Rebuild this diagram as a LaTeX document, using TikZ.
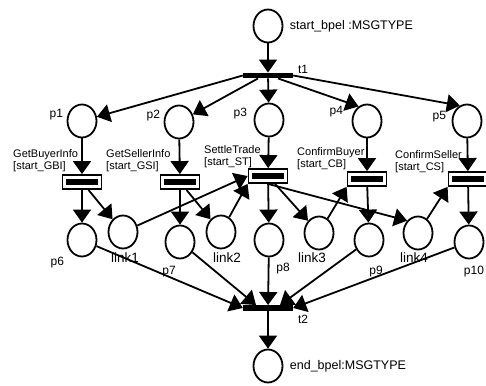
\documentclass[tikz,border=0pt]{standalone}
\usepackage{fontspec}
\setmainfont{Liberation Sans}
\usetikzlibrary{shapes.geometric, arrows.meta}

\begin{document}
\begin{tikzpicture}[
    x=1pt, y=-1pt,
    every node/.style={font=\fontsize{12}{13}\selectfont},
    >={Triangle[length=13pt, width=18pt]},
    arrow/.style={->, line width=1.8pt},
    place/.style={ellipse, draw=black, line width=1.8pt, minimum width=29pt, minimum height=33pt, inner sep=0pt},
    bar/.style={rectangle, fill=black, minimum width=50pt, minimum height=5.5pt, inner sep=0pt},
    task/.style={rectangle, draw=black, line width=1.8pt, minimum width=39pt, minimum height=14pt, inner sep=0pt,
        path picture={\fill (path picture bounding box.center) ++(-16pt,-2.75pt) rectangle ++(32pt,5.5pt);}},
    tasklabel/.style={font=\fontsize{11}{12}\selectfont, align=left, anchor=south west, inner sep=0pt},
    biglabel/.style={font=\fontsize{12.5}{13}\selectfont, label distance=3pt},
    linklabel/.style={font=\fontsize{13.5}{14}\selectfont, inner sep=1pt}
]
\useasboundingbox (0,0) rectangle (486,385);

% Nodes
\node (start) [place, label={[biglabel]0:start\_bpel :MSGTYPE}] at (268,26) {};
\node (t1) [bar, label={[inner sep=0pt, xshift=27pt, yshift=-1pt]above right:t1}] at (268,75.5) {};

\node (p1) [place, label={[yshift=6pt]left:p1}] at (82,121) {};
\node (p2) [place, label={[yshift=6pt]left:p2}] at (179,122) {};
\node (p3) [place, label={[xshift=-3pt, yshift=6pt]left:p3}] at (269,120) {};
\node (p4) [place, label={[xshift=-5pt, yshift=9pt]left:p4}] at (367,121) {};
\node (p5) [place, label={[xshift=-2pt, yshift=4pt]left:p5}] at (467,121) {};

\node (gbi) [task] at (82,182) {};
\node (gsi) [task] at (180,182) {};
\node (st) [task] at (268,176) {};
\node (cb) [task] at (367,179) {};
\node (cs) [task] at (468,179) {};

\node (gbilbl) [tasklabel] at (13,172) {GetBuyerInfo\\{[start\_GBI]}};
\node (gsilbl) [tasklabel] at (106,172) {GetSellerInfo\\{[start\_GSI]}};
\node (stlbl) [tasklabel] at (204,168) {SettleTrade\\{[start\_ST]}};
\node (cblbl) [tasklabel] at (297,170) {ConfirmBuyer\\{[start\_CB]}};
\node (cslbl) [tasklabel] at (395,173) {ConfirmSeller\\{[start\_CS]}};

\node (p6) [place, label={[xshift=-3pt, yshift=-2pt]below left:p6}] at (82,240) {};
\node (link1) [place, label={[linklabel, xshift=2pt, yshift=-2pt]below:link1}] at (123,232) {};
\node (p7) [place, label={[xshift=-11pt, yshift=-3pt]below:p7}] at (180,242) {};
\node (link2) [place, label={[linklabel, xshift=6pt, yshift=-2pt]below:link2}] at (221,232) {};
\node (p8) [place, label={[xshift=14pt, yshift=-2pt]below:p8}] at (269,240) {};
\node (link3) [place, label={[linklabel, xshift=-7pt, yshift=-1pt]below:link3}] at (319,233) {};
\node (p9) [place, label={[xshift=7pt, yshift=-5pt]below:p9}] at (369,240) {};
\node (link4) [place, label={[linklabel, xshift=-4pt, yshift=-1pt]below:link4}] at (418,233) {};
\node (p10) [place, label={[xshift=5pt, yshift=-3pt]below:p10}] at (469,242) {};

\node (t2) [bar, label={[inner sep=0pt, xshift=27pt, yshift=-4pt]below right:t2}] at (268,308) {};
\node (end) [place, label={[biglabel]0:end\_bpel:MSGTYPE}] at (268,366) {};

% Arrows
\draw [arrow] (start) -- (t1);
\draw [arrow] (t1.west) -- (p1);
\draw [arrow] ([xshift=-10pt]t1.south) -- (p2);
\draw [arrow] (t1) -- (p3);
\draw [arrow] ([xshift=10pt]t1.south) -- (p4.120);
\draw [arrow] (t1.east) -- (p5.115);

\draw [arrow] (p1) -- (gbi);
\draw [arrow] (p2) -- (gsi);
\draw [arrow] (p3) -- (st);
\draw [arrow] (p4) -- (cb);
\draw [arrow] (p5) -- (cs);

\draw [arrow] (gbi) -- (p6);
\draw [arrow] (gbi) -- (link1);
\draw [arrow] (gsi) -- (p7);
\draw [arrow] (gsi) -- (link2);
\draw [arrow] (link1) -- (st.west);
\draw [arrow] (link2) -- (st.south west);
\draw [arrow] (st) -- (p8);
\draw [arrow] (st) -- (link3);
\draw [arrow] (st.south) -- (link4.north west);
\draw [arrow] (link3) -- (cb.south west);
\draw [arrow] (cb) -- (p9);
\draw [arrow] (link4) -- (cs.south west);
\draw [arrow] (cs) -- (p10);

% everything joins at t2
\draw [arrow] (p6) -- (t2.west);
\draw [arrow] (p7) -- ([xshift=-12pt]t2.north);
\draw [arrow] (p8) -- (t2);
\draw [arrow] (p9) -- ([xshift=12pt]t2.north);
\draw [arrow] (p10) -- (t2.east);
\draw [arrow] (t2) -- (end);
\end{tikzpicture}
\end{document}
